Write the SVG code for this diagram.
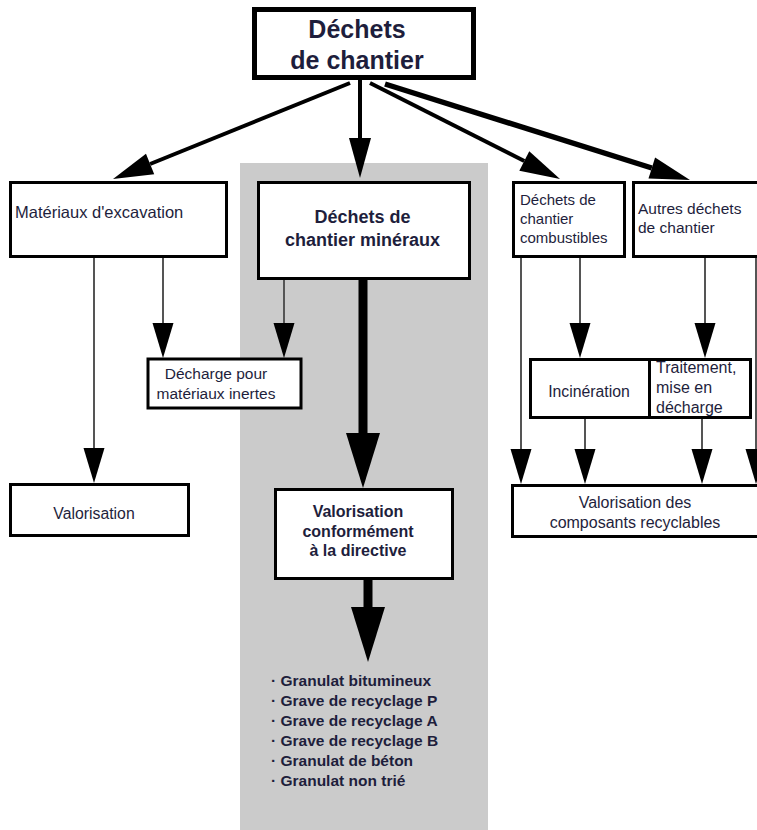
<svg xmlns="http://www.w3.org/2000/svg" width="757" height="830" viewBox="0 0 757 830">
<style>
  .box { fill: #ffffff; stroke: #000000; stroke-width: 3; }
  .t { font-family: "Liberation Sans", Arial, sans-serif; fill: #1e1e3c; }
  .b { font-weight: bold; }
  .c { text-anchor: middle; }
  .thin { stroke: #555555; stroke-width: 2; fill: none; }
  .med { stroke: #000000; stroke-width: 4; fill: none; }
  .thick { stroke: #000000; stroke-width: 9; fill: none; }
</style>
<defs>
  <marker id="ahTop" markerUnits="userSpaceOnUse" markerWidth="40" markerHeight="24" refX="0" refY="0" orient="auto" overflow="visible">
    <path d="M0,-11 L40,0 L0,11 Z" fill="#000"/>
  </marker>
  <marker id="ahSmall" markerUnits="userSpaceOnUse" markerWidth="35" markerHeight="22" refX="0" refY="0" orient="auto" overflow="visible">
    <path d="M0,-10.5 L35,0 L0,10.5 Z" fill="#000"/>
  </marker>
  <marker id="ahBig" markerUnits="userSpaceOnUse" markerWidth="56" markerHeight="36" refX="0" refY="0" orient="auto" overflow="visible">
    <path d="M0,-17 L55,0 L0,17 Z" fill="#000"/>
  </marker>
</defs>

<rect id="zone-mineraux" x="240" y="163" width="248" height="667" fill="#cbcbcb"/>

<g id="connectors">
  <line class="med" x1="350" y1="83" x2="150.1" y2="164" marker-end="url(#ahTop)"/>
  <line class="med" x1="360" y1="80" x2="360" y2="138" marker-end="url(#ahTop)"/>
  <line class="med" x1="370" y1="83" x2="524.3" y2="161" marker-end="url(#ahTop)"/>
  <line class="med" style="stroke-width:5.5" x1="385" y1="84" x2="651.8" y2="168" marker-end="url(#ahTop)"/>
  <line class="thin" x1="94" y1="257" x2="94" y2="448" marker-end="url(#ahSmall)"/>
  <line class="thin" x1="163" y1="257" x2="163" y2="323" marker-end="url(#ahSmall)"/>
  <line class="thin" x1="284" y1="279" x2="284" y2="323" marker-end="url(#ahSmall)"/>
  <line class="thick" x1="363" y1="279" x2="363" y2="433" marker-end="url(#ahBig)"/>
  <line class="thick" x1="368" y1="579" x2="368" y2="607" marker-end="url(#ahBig)"/>
  <line class="thin" x1="521" y1="257" x2="521" y2="449" marker-end="url(#ahSmall)"/>
  <line class="thin" x1="580" y1="257" x2="580" y2="323" marker-end="url(#ahSmall)"/>
  <line class="thin" x1="705" y1="257" x2="705" y2="323" marker-end="url(#ahSmall)"/>
  <line class="thin" x1="585" y1="418" x2="585" y2="449" marker-end="url(#ahSmall)"/>
  <line class="thin" x1="702" y1="418" x2="702" y2="449" marker-end="url(#ahSmall)"/>
  <line class="thin" x1="756" y1="257" x2="756" y2="449" marker-end="url(#ahSmall)"/>
</g>

<g id="node-dechets-chantier">
  <rect x="254.5" y="9.5" width="219" height="68" fill="#fff" stroke="#000" stroke-width="5"/>
  <text class="t b c" x="357" y="38" font-size="25">Déchets</text>
  <text class="t b c" x="357" y="69" font-size="25">de chantier</text>
</g>

<g id="node-materiaux-excavation">
  <rect class="box" x="10.5" y="182.5" width="216" height="74"/>
  <text class="t" x="15" y="218" font-size="16.5">Matériaux d'excavation</text>
</g>

<g id="node-dechets-mineraux">
  <rect class="box" x="258.5" y="182.5" width="211" height="96"/>
  <text class="t b c" x="362.5" y="223" font-size="18">Déchets de</text>
  <text class="t b c" x="362.5" y="246" font-size="18">chantier minéraux</text>
</g>

<g id="node-combustibles">
  <rect class="box" x="513.5" y="182.5" width="111" height="74"/>
  <text class="t" x="520" y="205" font-size="15">Déchets de</text>
  <text class="t" x="520" y="224" font-size="15">chantier</text>
  <text class="t" x="520" y="243" font-size="15">combustibles</text>
</g>

<g id="node-autres">
  <rect class="box" x="633.5" y="182.5" width="140" height="74"/>
  <text class="t" x="638" y="214" font-size="15.5">Autres déchets</text>
  <text class="t" x="638" y="233" font-size="15.5">de chantier</text>
</g>

<g id="node-decharge-inertes">
  <rect class="box" x="148" y="359" width="153" height="49"/>
  <text class="t c" x="216" y="379" font-size="15.5">Décharge pour</text>
  <text class="t c" x="216" y="399" font-size="15.5">matériaux inertes</text>
</g>

<g id="node-valorisation">
  <rect class="box" x="10.5" y="484.5" width="178" height="51"/>
  <text class="t c" x="94" y="519" font-size="15.8">Valorisation</text>
</g>

<g id="node-valorisation-directive">
  <rect class="box" x="275.5" y="489.5" width="177" height="89"/>
  <text class="t b c" x="358" y="517" font-size="16">Valorisation</text>
  <text class="t b c" x="358" y="537" font-size="16">conformément</text>
  <text class="t b c" x="358" y="556" font-size="16">à la directive</text>
</g>

<g id="node-incineration">
  <rect class="box" x="530.5" y="359.5" width="119" height="58"/>
  <text class="t c" x="589" y="397" font-size="15.8">Incinération</text>
</g>

<g id="node-traitement">
  <rect class="box" x="649.5" y="359.5" width="101" height="58"/>
  <text class="t" x="656" y="373" font-size="16">Traitement,</text>
  <text class="t" x="656" y="393" font-size="16">mise en</text>
  <text class="t" x="656" y="413" font-size="16">décharge</text>
</g>

<g id="node-composants">
  <rect class="box" x="512.5" y="485.5" width="260" height="51"/>
  <text class="t c" x="635" y="508" font-size="16">Valorisation des</text>
  <text class="t c" x="635" y="528" font-size="16">composants recyclables</text>
</g>

<g id="node-liste-granulats">
  <text class="t b" x="271" y="686" font-size="15.5">· Granulat bitumineux</text>
  <text class="t b" x="271" y="706" font-size="15.5">· Grave de recyclage P</text>
  <text class="t b" x="271" y="726" font-size="15.5">· Grave de recyclage A</text>
  <text class="t b" x="271" y="746" font-size="15.5">· Grave de recyclage B</text>
  <text class="t b" x="271" y="766" font-size="15.5">· Granulat de béton</text>
  <text class="t b" x="271" y="786" font-size="15.5">· Granulat non trié</text>
</g>
</svg>
